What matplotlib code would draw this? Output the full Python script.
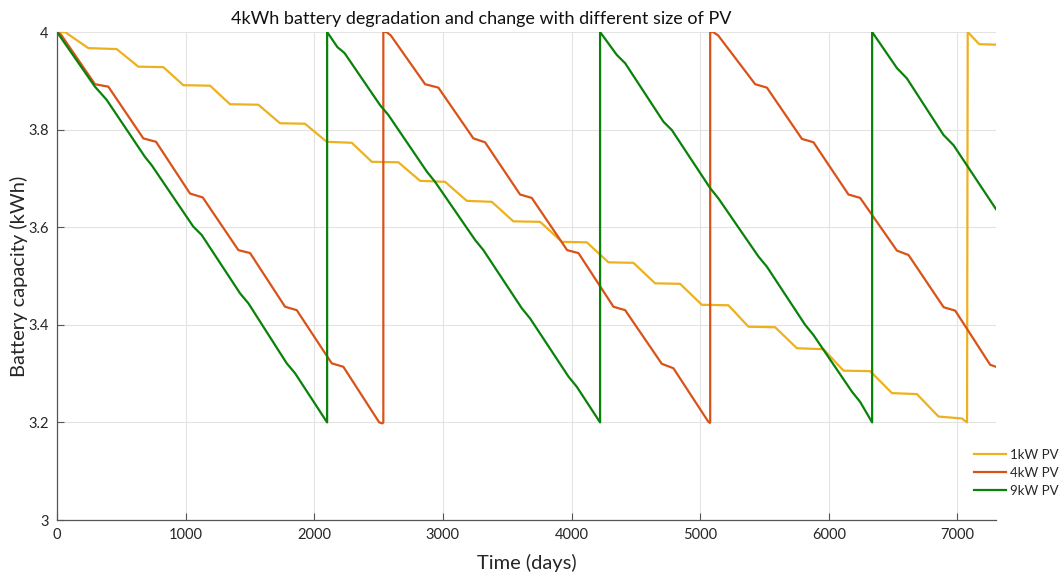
import matplotlib
matplotlib.use("Agg")
import matplotlib.pyplot as plt

# ---- data ----
pv1_days = [0, 62, 243, 464, 632, 827, 982, 1190, 1345, 1565, 1734, 1928, 2097, 2292,
            2447, 2654, 2823, 3017, 3186, 3380, 3548, 3756, 3925, 4119, 4287, 4481,
            4650, 4844, 5013, 5220, 5376, 5583, 5752, 5959, 6115, 6322, 6491, 6685,
            6853, 7035, 7075, 7080, 7170, 7300]
pv1_cap = [4.0, 4.0, 3.967, 3.965, 3.929, 3.928, 3.891, 3.890, 3.852, 3.851, 3.813,
           3.812, 3.775, 3.773, 3.734, 3.733, 3.695, 3.693, 3.654, 3.652, 3.612, 3.611,
           3.570, 3.569, 3.528, 3.527, 3.485, 3.484, 3.441, 3.440, 3.396, 3.395, 3.352,
           3.350, 3.306, 3.305, 3.260, 3.258, 3.212, 3.208, 3.200, 4.0, 3.975, 3.974]

pv4_days = [0, 30, 295, 399, 671, 770, 1034, 1133, 1410, 1501, 1773, 1864, 2136, 2226,
            2505, 2530, 2537,
            2537, 2560, 2595, 2862, 2965, 3237, 3328, 3600, 3691, 3966, 4054, 4326, 4417,
            4702, 4792, 5062, 5075, 5078,
            5078, 5100, 5140, 5428, 5519, 5791, 5881, 6153, 6244, 6530, 6620, 6893, 6983,
            7255, 7300]
pv4_cap = [4.0, 3.995, 3.893, 3.888, 3.782, 3.775, 3.669, 3.661, 3.553, 3.547, 3.437,
           3.430, 3.321, 3.314, 3.200, 3.198, 3.200,
           4.0, 4.0, 3.993, 3.893, 3.886, 3.782, 3.774, 3.667, 3.660, 3.553, 3.547,
           3.437, 3.430, 3.320, 3.311, 3.202, 3.199, 3.200,
           4.0, 4.0, 3.993, 3.893, 3.886, 3.781, 3.774, 3.667, 3.660, 3.552, 3.543,
           3.436, 3.429, 3.318, 3.314]

pv9_days = [0, 295, 386, 684, 736, 1060, 1125, 1423, 1488, 1786, 1851, 2100,
            2100, 2180, 2235, 2512, 2576, 2875, 2939, 3250, 3315, 3613, 3678, 3976, 4041, 4222,
            4222, 4352, 4417, 4715, 4780, 5078, 5142, 5453, 5519, 5816, 5881, 6180, 6244, 6337,
            6337, 6530, 6607, 6892, 6970, 7300]
pv9_cap = [4.0, 3.888, 3.861, 3.744, 3.727, 3.601, 3.584, 3.4645, 3.444, 3.321, 3.3006, 3.200,
           4.0, 3.969, 3.957, 3.850, 3.830, 3.714, 3.693, 3.574, 3.553, 3.434, 3.413, 3.294, 3.273, 3.200,
           4.0, 3.953, 3.936, 3.816, 3.799, 3.680, 3.659, 3.540, 3.519, 3.400, 3.379, 3.263, 3.242, 3.200,
           4.0, 3.926, 3.905, 3.789, 3.768, 3.637]

series_labels = ["1kW PV", "4kW PV", "9kW PV"]
x_ticks = [0, 1000, 2000, 3000, 4000, 5000, 6000, 7000]
y_ticks = [3, 3.2, 3.4, 3.6, 3.8, 4]
y_tick_labels = ["3", "3.2", "3.4", "3.6", "3.8", "4"]

title_text = "4kWh battery degradation and change with different size of PV"
x_label = "Time (days)"
y_label = "Battery capacity (kWh)"

# ---- drawing ----
plt.rcParams['font.family'] = ['Lato', 'DejaVu Sans']
txt_col = '#262626'

fig = plt.figure(figsize=(10.61, 5.74), dpi=100)
ax = fig.add_axes([57/1061, 1 - 520/574, (996 - 57)/1061, (520 - 32)/574])

colors = ['#EDB120', '#D95319', '#0A820A']
for d, c, col, lab in [(pv1_days, pv1_cap, colors[0], series_labels[0]),
                       (pv4_days, pv4_cap, colors[1], series_labels[1]),
                       (pv9_days, pv9_cap, colors[2], series_labels[2])]:
    ax.plot(d, c, color=col, lw=1.6, label=lab, solid_joinstyle='round')

ax.set_xlim(0, 7300)
ax.set_ylim(3, 4)
ax.set_xticks(x_ticks)
ax.set_xticklabels([str(t) for t in x_ticks])
ax.set_yticks(y_ticks)
ax.set_yticklabels(y_tick_labels)
ax.grid(True, color='#e3e3e3', lw=0.8)
ax.set_axisbelow(True)
for s in ['top', 'right']:
    ax.spines[s].set_visible(False)
for s in ['left', 'bottom']:
    ax.spines[s].set_color('#555555')
    ax.spines[s].set_linewidth(0.9)
ax.tick_params(direction='in', length=5, width=0.8, colors='#555555',
               labelcolor=txt_col, labelsize=10.5, pad=6)

ax.set_xlabel(x_label, fontsize=14.5, color=txt_col, labelpad=8)
ax.set_ylabel(y_label, fontsize=14.5, color=txt_col, labelpad=0)
fig.text(481/1061, 1 - 19/574, title_text, ha='center', va='center',
         fontsize=13, color='#111111')

leg = fig.legend(loc='center left', bbox_to_anchor=(974/1061, 1 - 473/574),
                 frameon=False, fontsize=9.5, handlelength=2.4, handletextpad=0.3,
                 borderpad=0, borderaxespad=0, labelspacing=0.45)
for t in leg.get_texts():
    t.set_color(txt_col)

fig.savefig("out.png", dpi=100)
